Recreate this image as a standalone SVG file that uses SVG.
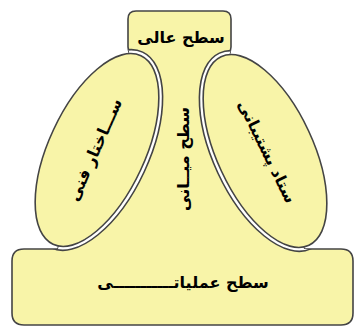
<svg xmlns="http://www.w3.org/2000/svg" width="356" height="327" viewBox="0 0 356 327">
<style>
.shape{fill:#F8F4A8;stroke:#444444;stroke-width:1.6}
.gap{fill:#ffffff;stroke:#444444;stroke-width:1.6}
.lbl{font-family:"DejaVu Sans",sans-serif;font-weight:bold;font-size:16px;fill:#000;text-anchor:middle;direction:rtl}
</style>
<defs>
<path id="midPath" d="M 24,249 L 58,249 L 62,232 L 100,150 L 142,66 Q 129,60 128,47 L 128,19 Q 128,11 136,11 L 223,11 Q 231,11 231,19 L 231,47 Q 230,60 220,66 L 262,150 L 300,232 L 304,249 L 341,249 Q 353,249 353,261 L 353,313 Q 353,325 341,325 L 24,325 Q 12,325 12,313 L 12,261 Q 12,249 24,249 Z"/>
<clipPath id="midClip"><use href="#midPath"/></clipPath>
</defs>
<g id="core">
<use href="#midPath" class="shape"/>
<g clip-path="url(#midClip)">
<ellipse class="gap" cx="97" cy="150" rx="52" ry="108" transform="rotate(25 97 150)"/>
<ellipse class="gap" cx="265" cy="151" rx="52" ry="108" transform="rotate(-25 265 151)"/>
</g>
<text class="lbl" x="181" y="43">سطح عالی</text>
<text class="lbl" transform="translate(189,159) rotate(-90)">سطح میــانی</text>
<text class="lbl" x="183" y="288">سطح عملیاتـــــــــــی</text>
</g>
<g id="technostructure">
<ellipse class="shape" cx="97" cy="150" rx="48" ry="104" transform="rotate(25 97 150)"/>
<text class="lbl" transform="translate(100,152) rotate(-66)">ســـاختار فنی</text>
</g>
<g id="support">
<ellipse class="shape" cx="265" cy="151" rx="48" ry="104" transform="rotate(-25 265 151)"/>
<text class="lbl" transform="translate(262,154) rotate(64)">ستاد پشتیبانی</text>
</g>
<g id="connectors"/>
</svg>
